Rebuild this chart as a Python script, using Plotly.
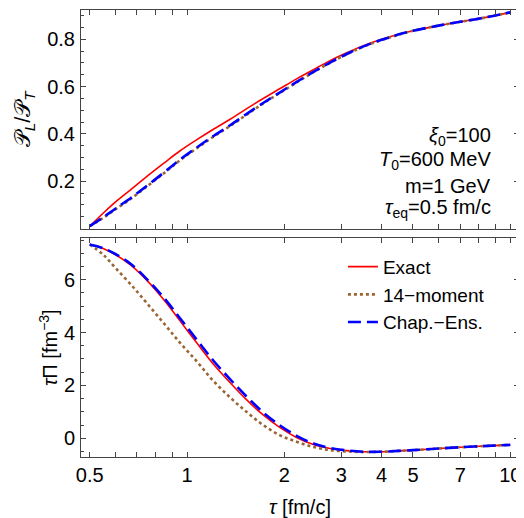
import plotly.graph_objects as go
from plotly.subplots import make_subplots

# ---- data ----
tau = [0.5, 0.55, 0.6, 0.67, 0.75, 0.85, 0.95, 1.07, 1.2, 1.36, 1.53, 1.72,
       1.94, 2.19, 2.46, 2.77, 3.12, 3.5, 4, 4.5, 5, 6, 7, 8.5, 10]

ratio_exact = [0.010, 0.065, 0.112, 0.165, 0.220, 0.278, 0.328, 0.375, 0.418, 0.462,
               0.507, 0.550, 0.592, 0.634, 0.672, 0.710, 0.743, 0.772, 0.800, 0.820,
               0.836, 0.858, 0.874, 0.894, 0.914]
ratio_ce = [0.010, 0.047, 0.084, 0.129, 0.180, 0.238, 0.291, 0.342, 0.389, 0.437,
            0.485, 0.531, 0.576, 0.621, 0.662, 0.702, 0.738, 0.769, 0.798, 0.820,
            0.836, 0.858, 0.874, 0.894, 0.914]
ratio_14 = [0.010, 0.045, 0.081, 0.126, 0.177, 0.235, 0.288, 0.339, 0.386, 0.434,
            0.482, 0.529, 0.574, 0.619, 0.661, 0.701, 0.737, 0.768, 0.797, 0.819,
            0.836, 0.858, 0.874, 0.894, 0.914]

pi_exact = [7.33, 7.18, 6.95, 6.55, 5.98, 5.22, 4.45, 3.62, 2.84, 2.10, 1.45, 0.88,
            0.40, 0.02, -0.24, -0.39, -0.47, -0.51, -0.51, -0.48, -0.45, -0.39,
            -0.34, -0.29, -0.25]
pi_ce = [7.33, 7.19, 6.97, 6.59, 6.03, 5.30, 4.55, 3.74, 2.97, 2.23, 1.57, 0.98,
         0.48, 0.08, -0.20, -0.37, -0.46, -0.51, -0.51, -0.48, -0.45, -0.39,
         -0.34, -0.29, -0.25]
pi_14 = [7.33, 6.95, 6.45, 5.82, 5.12, 4.33, 3.62, 2.92, 2.20, 1.54, 0.99, 0.50,
         0.11, -0.14, -0.33, -0.45, -0.50, -0.52, -0.51, -0.48, -0.45, -0.39,
         -0.34, -0.29, -0.25]

names = ["Exact", "14\u2212moment", "Chap.\u2212Ens."]

x_tickvals = [0.5, 0.6, 0.7, 0.8, 0.9, 1, 2, 3, 4, 5, 6, 7, 8, 9, 10]
x_ticktext = ["0.5", "", "", "", "", "1", "2", "3", "4", "5", "", "7", "", "", "10"]

params = ["<i>\u03be</i><sub>0</sub>=100", "<i>T</i><sub>0</sub>=600 MeV",
          "m=1 GeV", "<i>\u03c4</i><sub>eq</sub>=0.5 fm/c"]

# ---- figure ----
fig = make_subplots(rows=2, cols=1, shared_xaxes=True, vertical_spacing=0.022)

styles = [dict(color="#ff0000", width=1.6, dash="solid"),
          dict(color="#996633", width=2.6, dash="3px,3px"),
          dict(color="#0000ff", width=2.6, dash="13px,6px")]

for ys, nm, st in zip([ratio_exact, ratio_14, ratio_ce], names, styles):
    fig.add_trace(go.Scatter(x=tau, y=ys, mode="lines", name=nm, line=st,
                             line_shape="spline", showlegend=False), row=1, col=1)
for ys, nm, st in zip([pi_exact, pi_14, pi_ce], names, styles):
    fig.add_trace(go.Scatter(x=tau, y=ys, mode="lines", name=nm, line=st,
                             line_shape="spline", showlegend=True), row=2, col=1)

font = dict(family="Liberation Sans, Arial, sans-serif", size=20, color="black")
axis_common = dict(showline=True, linecolor="#444", linewidth=1, mirror="allticks",
                   ticks="inside", ticklen=5, tickcolor="#444", showgrid=False,
                   zeroline=False, tickfont=font, automargin=False)

fig.update_xaxes(type="log", range=[-0.328, 1.027], tickvals=x_tickvals,
                 ticktext=x_ticktext, ticklabeloverflow="allow",
                 ticklabelstandoff=0, **axis_common)
fig.update_xaxes(title=dict(text="<i>\u03c4</i> [fm/c]", font=font, standoff=19), row=2, col=1)

fig.update_yaxes(range=[0.0, 0.924], tickvals=[0.2, 0.4, 0.6, 0.8],
                 ticklabelstandoff=1,
                 minor=dict(ticks="inside", ticklen=3, dtick=0.05, tickcolor="#444"),
                 title=dict(text="\U0001D4AB<sub><i>L</i></sub>/\U0001D4AB<sub><i>T</i></sub>",
                            font=dict(family=font["family"], size=22, color="black"), standoff=10),
                 row=1, col=1, **axis_common)
fig.update_yaxes(range=[-0.71, 7.56], tickvals=[0, 2, 4, 6],
                 ticklabelstandoff=1,
                 minor=dict(ticks="inside", ticklen=3, dtick=0.5, tickcolor="#444"),
                 title=dict(text="<i>\u03c4</i>\u03a0 [fm<sup>\u22123</sup>]", font=font, standoff=0),
                 row=2, col=1, **axis_common)

ypos = [0.717, 0.663, 0.607, 0.556]
for txt, yp in zip(params, ypos):
    fig.add_annotation(text=txt, xref="paper", yref="paper", x=0.94, y=yp,
                       xanchor="right", yanchor="middle", showarrow=False, font=font)

fig.update_layout(
    width=516, height=510,
    margin=dict(l=73, r=5, t=2, b=61),
    paper_bgcolor="white", plot_bgcolor="white",
    font=font,
    legend=dict(x=0.598, y=0.468, xanchor="left", yanchor="top", bgcolor="rgba(0,0,0,0)",
                font=dict(family=font["family"], size=19, color="black"),
                tracegroupgap=0, itemwidth=30),
)

fig.write_html("out.html")
